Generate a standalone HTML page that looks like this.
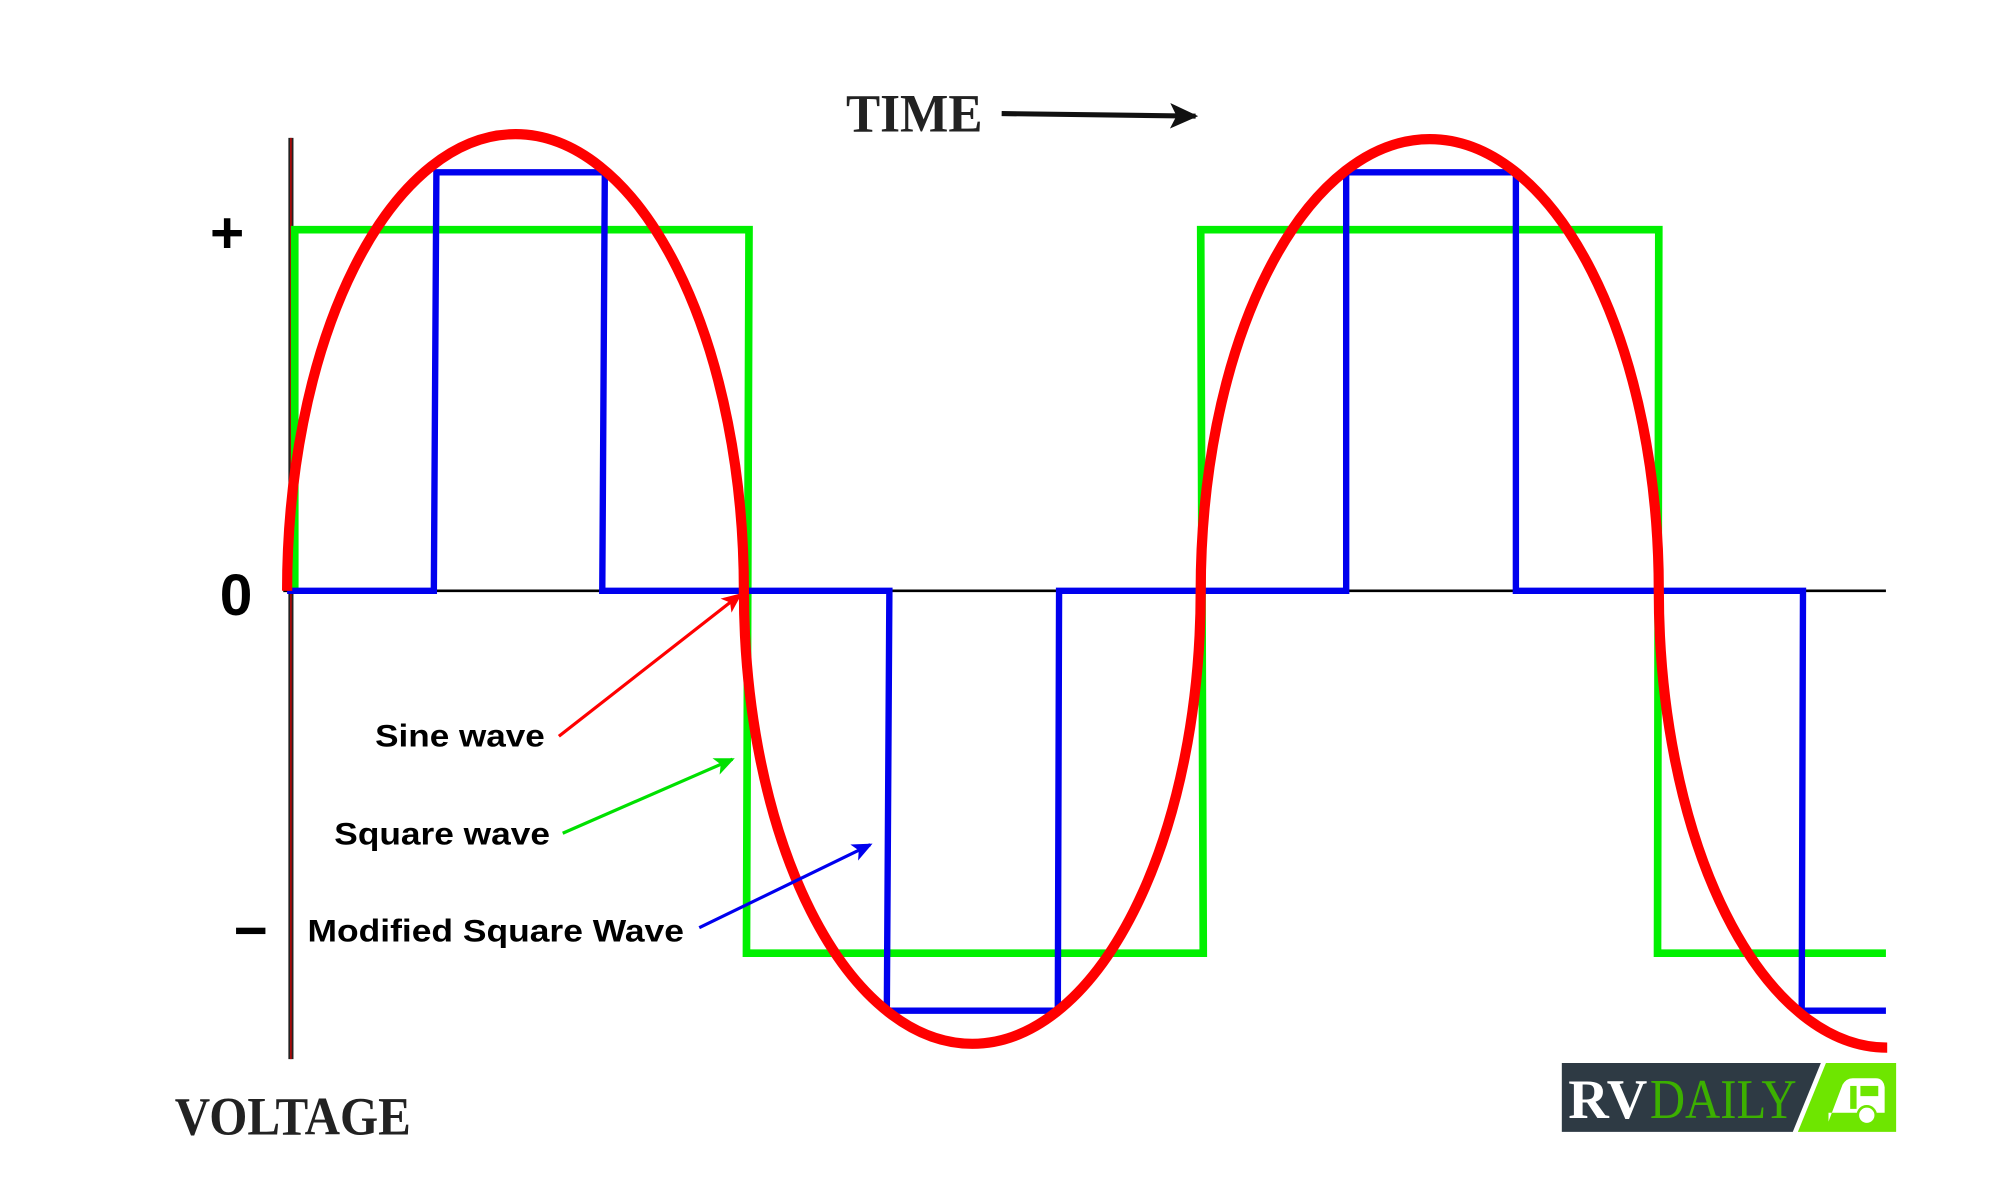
<!DOCTYPE html>
<html><head><meta charset="utf-8"><style>
html,body{margin:0;padding:0;background:#fff;}
svg{display:block}
.lab{font-family:"Liberation Sans",sans-serif;font-weight:bold;fill:#000}
.serif{font-family:"Liberation Serif",serif;font-weight:bold;fill:#222}
</style></head><body>
<svg width="2000" height="1200" viewBox="0 0 1567.4 940.4" preserveAspectRatio="none" xmlns="http://www.w3.org/2000/svg">
<defs>
<marker id="ak" markerWidth="22" markerHeight="20" refX="20" refY="10" orient="auto" markerUnits="userSpaceOnUse"><path d="M0,0 L22,10 L0,20 L5,10z" fill="#111"/></marker>
<marker id="ar" markerWidth="16" markerHeight="14" refX="14" refY="7" orient="auto" markerUnits="userSpaceOnUse"><path d="M0,0 L16,7 L0,14 L4,7z" fill="#f00"/></marker>
<marker id="ag" markerWidth="16" markerHeight="14" refX="14" refY="7" orient="auto" markerUnits="userSpaceOnUse"><path d="M0,0 L16,7 L0,14 L4,7z" fill="#00e000"/></marker>
<marker id="ab" markerWidth="16" markerHeight="14" refX="14" refY="7" orient="auto" markerUnits="userSpaceOnUse"><path d="M0,0 L16,7 L0,14 L4,7z" fill="#0000ee"/></marker>
</defs>
<line x1="222" y1="463" x2="1478" y2="463" stroke="#000" stroke-width="2"/>
<line x1="228" y1="108" x2="228" y2="830" stroke="#222" stroke-width="4"/>
<line x1="228" y1="108" x2="228" y2="830" stroke="#d00" stroke-width="1"/>
<polyline fill="none" stroke="#00f000" stroke-width="6" points="231,463 231,180 587,180 585,747 943,747 941,180 1300,180 1299,747 1478,747"/>
<polyline fill="none" stroke="#0000ee" stroke-width="5" points="225,463 340,463 342,135 474,135 472,463 697,463 695,792 829,792 830,463 1055,463 1055,135 1188,135 1188,463 1413,463 1412,792 1478,792"/>
<path fill="none" stroke="#f00" stroke-width="8" d="M225,463 A179,358 0 0 1 583,463 A179,355 0 0 0 941,463 A179,353 0 0 1 1300,463 A179,358 0 0 0 1479,821"/>
<text x="178" y="198" class="lab" style="font-size:46px;font-weight:900" text-anchor="middle">+</text>
<text x="185" y="482" class="lab" style="font-size:46px;font-weight:900" text-anchor="middle">0</text>
<rect x="185" y="727" width="23" height="5" fill="#000"/>
<text x="663" y="103" class="serif" style="font-size:42px" textLength="107" lengthAdjust="spacingAndGlyphs">TIME</text>
<line x1="785" y1="89" x2="937" y2="91" stroke="#111" stroke-width="4" marker-end="url(#ak)"/>
<text x="137" y="889" class="serif" style="font-size:42px" textLength="185" lengthAdjust="spacingAndGlyphs">VOLTAGE</text>
<text x="294" y="585" class="lab" style="font-size:25px" textLength="133" lengthAdjust="spacingAndGlyphs">Sine wave</text>
<text x="262" y="662" class="lab" style="font-size:25px" textLength="169" lengthAdjust="spacingAndGlyphs">Square wave</text>
<text x="241" y="738" class="lab" style="font-size:25px" textLength="295" lengthAdjust="spacingAndGlyphs">Modified Square Wave</text>
<line x1="438" y1="577" x2="580" y2="466" stroke="#f00" stroke-width="2.5" marker-end="url(#ar)"/>
<line x1="441" y1="653" x2="574" y2="595" stroke="#00e000" stroke-width="2.5" marker-end="url(#ag)"/>
<line x1="548" y1="727" x2="682" y2="662" stroke="#0000ee" stroke-width="2.5" marker-end="url(#ab)"/>
<polygon points="1224,833 1427,833 1405,887 1224,887" fill="#2e3a44"/>
<polygon points="1431,833 1486,833 1486,887 1409,887" fill="#6ee600"/>
<text x="1229" y="876" class="serif" style="font-size:44px;fill:#fff" textLength="62" lengthAdjust="spacingAndGlyphs">RV</text>
<text x="1293" y="876" font-family="Liberation Serif,serif" font-size="44" fill="#3cb000" textLength="115" lengthAdjust="spacingAndGlyphs">DAILY</text>
<path d="M1433,879 L1444,850 Q1447,845 1452,845 L1470,845 Q1476,845 1477,852 L1477,872 L1433,872 Z" fill="#fff"/>
<rect x="1450" y="851" width="5" height="18" fill="#6ee600"/>
<rect x="1458" y="851" width="14" height="8" fill="#6ee600"/>
<circle cx="1463" cy="874" r="7" fill="#fff" stroke="#6ee600" stroke-width="2"/>
</svg>
</body></html>
